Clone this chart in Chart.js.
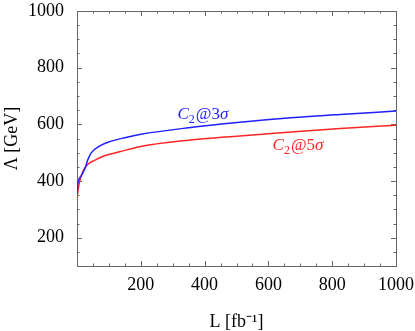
<!DOCTYPE html>
<html>
<head>
<meta charset="utf-8">
<script src="https://cdn.jsdelivr.net/npm/chart.js@4/dist/chart.umd.min.js"></script>
<style>
  html, body { margin: 0; padding: 0; background: #fff; }
  #c { display: block; }
</style>
</head>
<body>
<canvas id="c" width="415" height="331"></canvas>
<script>
// ---- data ----
const lumi3 = [0, 2, 5, 8, 14, 20, 27, 33, 45, 70, 100, 150, 200, 350, 510, 670, 825, 1000];
const lambda3 = [355, 385, 402, 410, 420, 432, 450, 472, 500, 523, 538, 553, 565, 588, 607, 623, 635, 647];

const lumi5 = [0, 3, 8, 17, 33, 55, 86, 133, 200, 350, 510, 670, 825, 1000];
const lambda5 = [335, 365, 397, 430, 458, 473, 489, 503, 522, 544, 559, 573, 585, 597];

const xTicks = [200, 400, 600, 800, 1000];
const yTicks = [200, 400, 600, 800, 1000];
const seriesSigma = ['3', '5'];
const seriesColors = ['#1f1fff', '#ff2424'];
// label anchors in data coordinates (L, Λ)
const labelL = [315, 613];
const labelLambda = [618, 511];

const FONT = '"Liberation Serif", "Times New Roman", serif';

function pts(xs, ys) { return xs.map((x, i) => ({ x: x, y: ys[i] })); }

const framePlugin = {
  id: 'frame',
  beforeDatasetsDraw(chart) {
    const { ctx, chartArea: a, scales: { x, y } } = chart;
    ctx.save();
    ctx.strokeStyle = '#666';
    ctx.lineWidth = 1;
    ctx.beginPath();
    for (let v = 0; v <= 1000; v += 50) {
      const px = Math.round(x.getPixelForValue(v)) + 0.5;
      const len = (v % 200 === 0) ? 5 : 2.5;
      ctx.moveTo(px, a.bottom); ctx.lineTo(px, a.bottom - len);
      ctx.moveTo(px, a.top); ctx.lineTo(px, a.top + len);
    }
    for (let v = 100; v <= 1000; v += 50) {
      const py = Math.round(y.getPixelForValue(v)) + 0.5;
      const len = (v % 200 === 0) ? 5 : 2.5;
      ctx.moveTo(a.left, py); ctx.lineTo(a.left + len, py);
      ctx.moveTo(a.right, py); ctx.lineTo(a.right - len, py);
    }
    ctx.stroke();
    ctx.strokeRect(Math.round(a.left) + 0.5, Math.round(a.top) + 0.5,
                   Math.round(a.right - a.left), Math.round(a.bottom - a.top));
    ctx.restore();
  },
  afterDatasetsDraw(chart) {
    const { ctx, scales: { x, y } } = chart;
    ctx.save();
    ctx.textBaseline = 'alphabetic';
    ctx.textAlign = 'left';
    for (let i = 0; i < seriesSigma.length; i++) {
      let px = x.getPixelForValue(labelL[i]);
      const py = y.getPixelForValue(labelLambda[i]);
      ctx.fillStyle = seriesColors[i];
      ctx.font = 'italic 17px ' + FONT;
      ctx.fillText('C', px, py); px += ctx.measureText('C').width;
      ctx.font = '12px ' + FONT;
      ctx.fillText('2', px, py + 4); px += ctx.measureText('2').width + 1;
      ctx.font = '17px ' + FONT;
      const s = '@' + seriesSigma[i];
      ctx.fillText(s, px, py); px += ctx.measureText(s).width;
      ctx.font = 'italic 17px ' + FONT;
      ctx.fillText('σ', px, py);
    }
    ctx.restore();
  }
};

new Chart(document.getElementById('c'), {
  type: 'line',
  data: {
    datasets: [
      { label: 'C2@3σ', data: pts(lumi3, lambda3), borderColor: seriesColors[0], borderWidth: 1.5,
        pointRadius: 0, fill: false, cubicInterpolationMode: 'monotone' },
      { label: 'C2@5σ', data: pts(lumi5, lambda5), borderColor: seriesColors[1], borderWidth: 1.5,
        pointRadius: 0, fill: false, cubicInterpolationMode: 'monotone' }
    ]
  },
  options: {
    responsive: false,
    devicePixelRatio: 1,
    animation: false,
    layout: { padding: { left: 0, right: 19, top: 11, bottom: 0 } },
    plugins: { legend: { display: false }, tooltip: { enabled: false } },
    scales: {
      x: {
        type: 'linear', min: 0, max: 1000,
        grid: { display: false },
        border: { display: false },
        afterBuildTicks(s) { s.ticks = xTicks.map(v => ({ value: v })); },
        afterFit(s) { s.height = 65; s.paddingLeft = 0; s.paddingRight = 0; },
        ticks: { color: '#000', font: { family: FONT, size: 18 }, padding: 0, maxRotation: 0,
                 callback: v => String(v) },
        title: { display: true, text: 'L [fb⁻¹]', color: '#000',
                 font: { family: FONT, size: 18, lineHeight: 1 }, padding: { top: 0, bottom: 0 } }
      },
      y: {
        type: 'linear', min: 100, max: 1000,
        grid: { display: false },
        border: { display: false },
        afterBuildTicks(s) { s.ticks = yTicks.map(v => ({ value: v })); },
        afterFit(s) { s.width = 77; s.paddingTop = 0; s.paddingBottom = 0; },
        ticks: { color: '#000', font: { family: FONT, size: 18 }, padding: 5,
                 callback: v => String(v) },
        title: { display: true, text: 'Λ [GeV]', color: '#000',
                 font: { family: FONT, size: 18, lineHeight: 1 }, padding: { top: 3, bottom: 0 } }
      }
    }
  },
  plugins: [framePlugin]
});
</script>
</body>
</html>
